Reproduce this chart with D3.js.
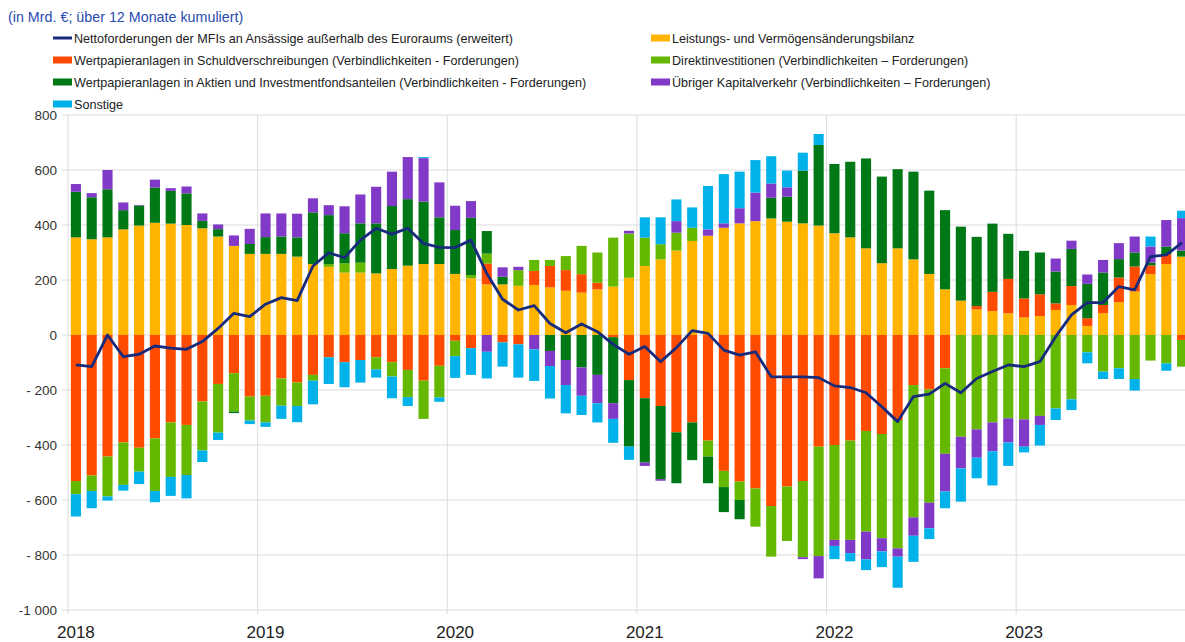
<!DOCTYPE html>
<html>
<head>
<meta charset="utf-8">
<script src="https://cdn.jsdelivr.net/npm/d3@7"></script>
<style>
  body { margin: 0; background: #fff; }
  svg { display: block; font-family: "Liberation Sans", Arial, sans-serif; }
</style>
</head>
<body>
<svg width="1185" height="642"></svg>
<script>
// months Jan 2018 .. Nov 2023
const years = [2018, 2019, 2020, 2021, 2022, 2023];
const months = d3.range(71);

// Mrd. EUR, 12-month cumulated
const leistung = [355,348,355,384,398,408,405,400,388,358,324,295, 295,295,285,258,248,227,227,224,240,252,258,258,
  222,206,184,184,179,182,173,161,154,166,176,208, 251,275,307,342,361,390,406,414,424,412,406,398,
  370,355,315,261,315,275,222,166,125,93,87,79, 64,69,91,109,33,79,119,158,221,258,285];
const schuld = [-531,-511,-442,-391,-410,-376,-318,-327,-242,-178,-139,-224, -221,-158,-173,-145,-81,-99,-91,-81,-99,-127,-166,-112,
  -21,-48,76,-27,-34,51,78,75,67,24,-8,-164, -230,-258,-354,-318,-384,-494,-533,-558,-622,-551,-531,-406,
  -400,-384,-349,-360,-309,-182,-198,-121,0,12,70,125, 69,79,24,69,28,30,90,91,32,36,-18];
const direkt = [-48,-56,-145,-154,-87,-191,-198,-182,-178,-177,-139,-87, -97,-99,-85,-21,10,34,36,-44,-52,-99,-139,-115,
  -56,12,36,0,57,40,22,51,103,110,178,161, 103,55,65,48,-58,-59,-67,-139,-184,-198,-277,-398,
  -345,-361,-366,-379,-467,-481,-412,-311,-370,-343,-318,-303, -307,-294,-267,-234,-63,-133,-121,-160,-93,-103,-97];
const aktien = [166,153,175,70,73,128,119,115,27,27,-6,36, 61,63,70,188,178,109,143,182,229,242,227,170,
  160,208,82,28,0,0,-58,-91,-118,-145,-240,-242, -234,-266,-185,-137,-97,-91,-70,0,75,91,192,293,
  252,275,327,315,288,319,303,288,269,252,248,164, 173,152,116,135,125,118,67,51,10,27,22];
const uebrig = [28,15,70,28,2,29,10,25,27,17,38,55, 86,84,86,51,36,98,105,133,125,153,158,127,
  88,61,-61,34,12,-52,-55,-91,-103,-103,-57,10, -12,-6,42,0,23,16,55,104,52,34,-7,-81,
  -22,-48,-101,-48,-30,-67,-93,-137,-115,-103,-105,-88, -99,-33,47,30,34,46,58,58,59,97,118];
const sonstige = [-81,-63,-15,-21,-45,-41,-69,-85,-42,-27,0,-13, -16,-48,-59,-86,-97,-91,-82,-30,-79,-32,4,-16,
  -79,-97,-97,-88,-121,-115,-118,-103,-70,-70,-87,-48, 74,98,79,74,158,179,133,118,99,61,65,40,
  -48,-30,-39,-57,-113,-95,-39,-61,-121,-75,-124,-85, -21,-75,-42,-39,-40,-27,-39,-42,36,-27,27];
const netto = [-109,-115,0,-79,-70,-40,-48,-52,-24,24,79,67, 112,136,125,251,299,281,345,388,367,388,333,319,
  318,345,224,130,91,107,42,8,40,12,-34,-70, -42,-97,-46,16,6,-55,-73,-61,-152,-152,-152,-155,
  -185,-191,-210,-261,-315,-224,-215,-176,-210,-158,-133,-109, -115,-97,-6,73,118,118,176,164,285,291,336];

const yTicks = [800, 600, 400, 200, 0, -200, -400, -600, -800, -1000];

const series = [
  { key: "leistung", name: "Leistungs- und Vermögensänderungsbilanz", color: "#ffb400", values: leistung },
  { key: "schuld", name: "Wertpapieranlagen in Schuldverschreibungen (Verbindlichkeiten - Forderungen)", color: "#ff4b00", values: schuld },
  { key: "direkt", name: "Direktinvestitionen (Verbindlichkeiten – Forderungen)", color: "#65b800", values: direkt },
  { key: "aktien", name: "Wertpapieranlagen in Aktien und Investmentfondsanteilen (Verbindlichkeiten - Forderungen)", color: "#007816", values: aktien },
  { key: "uebrig", name: "Übriger Kapitalverkehr (Verbindlichkeiten – Forderungen)", color: "#8139c8", values: uebrig },
  { key: "sonstige", name: "Sonstige", color: "#00b1ea", values: sonstige }
];
const lineName = "Nettoforderungen der MFIs an Ansässige außerhalb des Euroraums (erweitert)";
const lineColor = "#182a7c";

const rows = months.map(i => {
  const r = { i };
  series.forEach(s => { r[s.key] = s.values[i]; });
  return r;
});

const svg = d3.select("svg");
const plotL = 68, plotR = 1190, plotT = 115, plotB = 610;

const x = d3.scaleBand().domain(months).range([plotL, plotR])
  .paddingInner(0.36).paddingOuter(0.18);
const y = d3.scaleLinear().domain([-1000, 800]).range([plotB, plotT]);
const edge = i => x(i) - x.step() * x.paddingInner() / 2;

// grid
svg.append("g").selectAll("line").data(yTicks).join("line")
  .attr("x1", 62).attr("x2", 1185)
  .attr("y1", d => y(d)).attr("y2", d => y(d))
  .attr("stroke", "#dcdcdc").attr("stroke-width", 1);
svg.append("g").selectAll("line").data(years).join("line")
  .attr("x1", (d, k) => edge(k * 12)).attr("x2", (d, k) => edge(k * 12))
  .attr("y1", plotT).attr("y2", plotB + 4)
  .attr("stroke", "#dcdcdc").attr("stroke-width", 1);

// bars
const stacked = d3.stack().keys(series.map(s => s.key)).offset(d3.stackOffsetDiverging)(rows);
svg.append("g").selectAll("g").data(stacked).join("g")
  .attr("fill", (d, k) => series[k].color)
  .selectAll("rect").data(d => d).join("rect")
  .attr("x", d => x(d.data.i))
  .attr("width", x.bandwidth())
  .attr("y", d => y(Math.max(d[0], d[1])))
  .attr("height", d => Math.abs(y(d[0]) - y(d[1])));

// line
svg.append("path").datum(netto)
  .attr("fill", "none").attr("stroke", lineColor).attr("stroke-width", 2.8)
  .attr("stroke-linejoin", "round")
  .attr("d", d3.line().x((d, i) => x(i) + x.bandwidth() / 2).y(d => y(d)));

// y labels
const fmt = v => v < 0 ? (v <= -1000 ? "-1 000" : "- " + (-v)) : String(v);
svg.append("g").selectAll("text").data(yTicks).join("text")
  .attr("x", 57).attr("y", d => y(d) + 5)
  .attr("text-anchor", "end").attr("font-size", 13.5).attr("fill", "#333")
  .text(fmt);

// year labels
svg.append("g").selectAll("text").data(years).join("text")
  .attr("x", (d, k) => x(k * 12) + x.bandwidth() / 2).attr("y", 638)
  .attr("text-anchor", "middle").attr("font-size", 17).attr("fill", "#222")
  .text(d => d);

// title
svg.append("text").attr("x", 8).attr("y", 22)
  .attr("font-size", 14.3).attr("fill", "#2a4bb0")
  .text("(in Mrd. €; über 12 Monate kumuliert)");

// legend
const legend = [
  { name: lineName, color: lineColor, line: true, x: 53, y: 38 },
  { ...series[1], x: 53, y: 60 },
  { ...series[3], x: 53, y: 82 },
  { ...series[5], x: 53, y: 104 },
  { ...series[0], x: 651, y: 38 },
  { ...series[2], x: 651, y: 60 },
  { ...series[4], x: 651, y: 82 }
];
const lg = svg.append("g").selectAll("g").data(legend).join("g")
  .attr("transform", d => `translate(${d.x},${d.y})`);
lg.append("rect")
  .attr("x", 0).attr("width", 19)
  .attr("y", d => d.line ? -1.5 : -3.5).attr("height", d => d.line ? 3 : 7)
  .attr("fill", d => d.color);
lg.append("text").attr("x", 21).attr("y", 4.5)
  .attr("font-size", 12.6).attr("fill", "#222")
  .text(d => d.name);
</script>
</body>
</html>
